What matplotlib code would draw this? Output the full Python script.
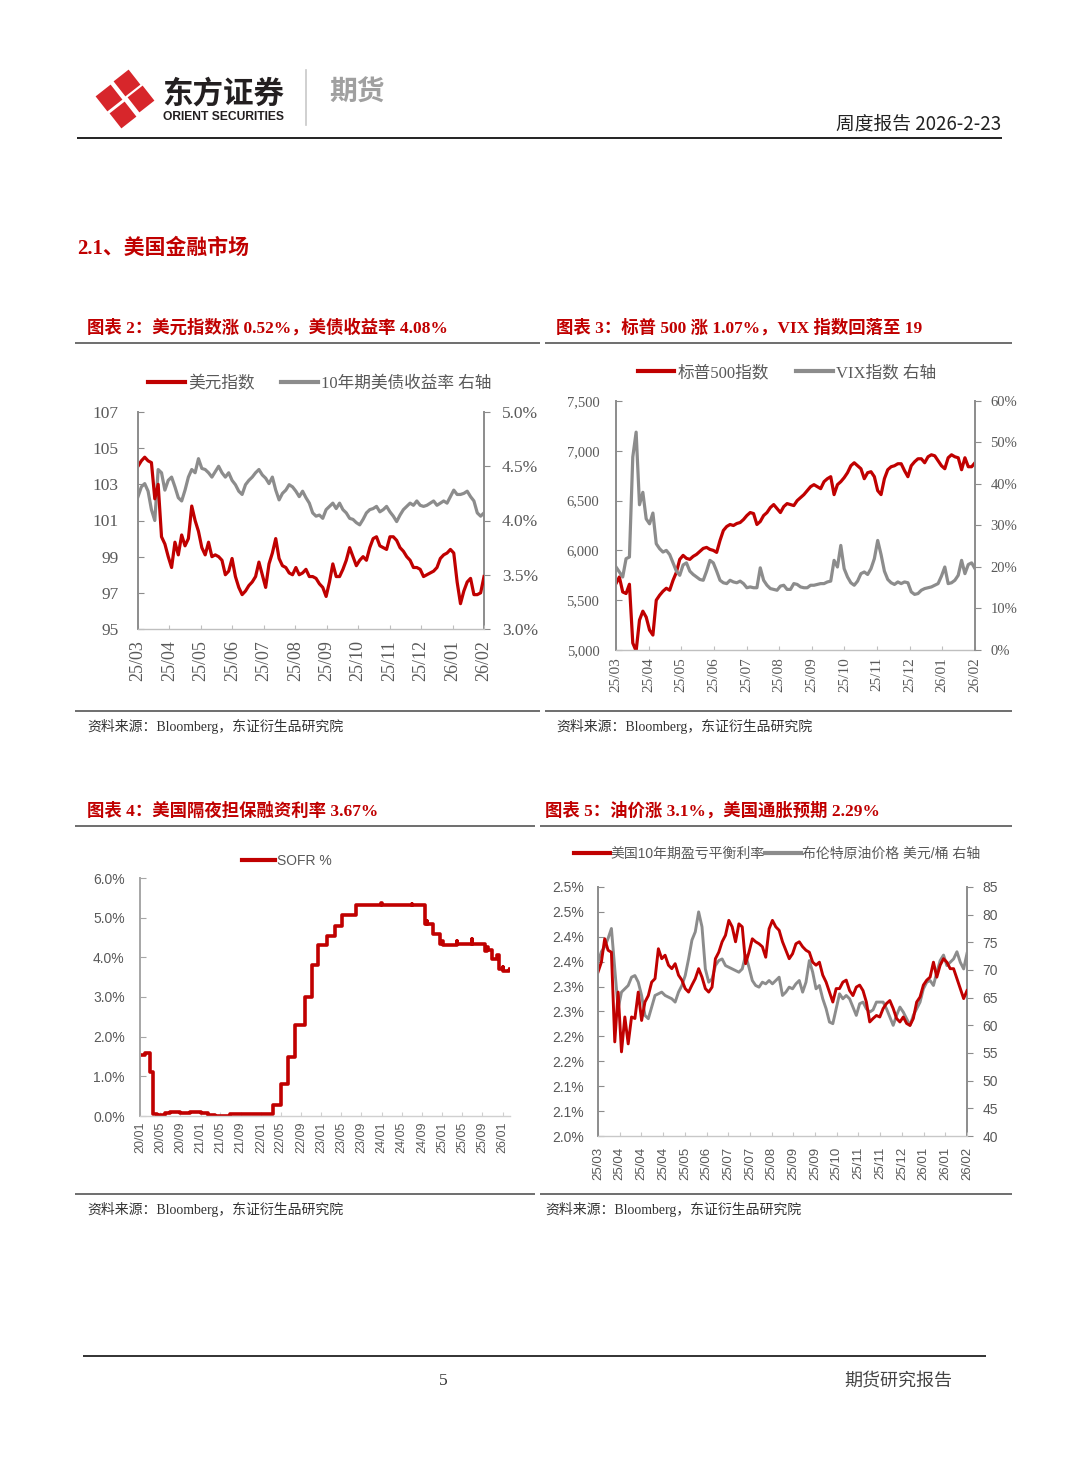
import numpy as np
import pandas as pd
import matplotlib
matplotlib.use('Agg')
import matplotlib.pyplot as plt
import matplotlib.dates as mdates
from matplotlib.lines import Line2D
from matplotlib.patches import RegularPolygon
from matplotlib.ticker import FuncFormatter

W, H = 1080, 1466
RED = '#C00000'
GRAY = '#8C8C8C'
TXT = '#595959'
SPINE = '#8C8C8C'
SERIF = ['Liberation Serif', 'Noto Sans CJK SC']
SANS = ['Liberation Sans', 'Noto Sans CJK SC']
CJK = ['Noto Sans CJK SC', 'DejaVu Sans']
plt.rcParams['font.family'] = SERIF

# ---- chart 2: dollar index / 10y treasury ----
m_labels = ['25/03', '25/04', '25/05', '25/06', '25/07', '25/08', '25/09',
            '25/10', '25/11', '25/12', '26/01', '26/02']
dxy = [104.0, 104.3, 104.5, 104.3, 104.2, 102.2, 103.0, 100.1, 99.7, 99.0,
       98.4, 99.8, 99.1, 100.2, 99.6, 100.0, 101.8, 101.0, 100.4, 99.5,
       99.1, 99.8, 99.0, 99.1, 99.0, 98.8, 98.0, 98.2, 98.9, 97.9,
       97.3, 96.9, 97.1, 97.4, 97.6, 97.9, 98.7, 98.0, 97.3, 98.6,
       99.2, 100.0, 98.9, 98.5, 98.4, 98.1, 98.0, 98.4, 98.0, 98.1,
       98.3, 97.9, 97.9, 97.8, 97.5, 97.3, 96.8, 97.6, 98.6, 97.9,
       97.9, 98.3, 98.8, 99.5, 99.0, 98.5, 98.8, 99.0, 98.8, 99.5,
       100.0, 100.1, 99.6, 99.5, 99.4, 100.1, 100.1, 99.9, 99.5, 99.3,
       99.0, 98.8, 98.4, 98.4, 98.3, 97.9, 98.0, 98.1, 98.2, 98.4,
       98.9, 99.1, 99.2, 99.4, 99.2, 97.6, 96.4, 97.1, 97.6, 97.8,
       96.9, 96.9, 97.0, 97.9]
ust10 = [4.22, 4.31, 4.34, 4.27, 4.10, 4.00, 4.47, 4.44, 4.28, 4.37,
         4.40, 4.31, 4.21, 4.18, 4.28, 4.40, 4.47, 4.44, 4.57, 4.48,
         4.47, 4.44, 4.40, 4.45, 4.50, 4.44, 4.40, 4.44, 4.37, 4.33,
         4.27, 4.24, 4.33, 4.37, 4.40, 4.44, 4.47, 4.42, 4.39, 4.34,
         4.40, 4.28, 4.19, 4.25, 4.28, 4.33, 4.31, 4.27, 4.22, 4.27,
         4.21, 4.16, 4.07, 4.04, 4.05, 4.02, 4.10, 4.13, 4.16, 4.11,
         4.16, 4.10, 4.07, 4.02, 4.01, 3.98, 3.96, 4.01, 4.07, 4.10,
         4.11, 4.13, 4.08, 4.10, 4.13, 4.08, 4.04, 3.99, 4.05, 4.10,
         4.13, 4.16, 4.14, 4.18, 4.14, 4.13, 4.14, 4.16, 4.18, 4.14,
         4.16, 4.18, 4.16, 4.22, 4.28, 4.24, 4.24, 4.25, 4.27, 4.22,
         4.18, 4.07, 4.04, 4.07]

# ---- chart 3: S&P 500 / VIX ----
spx = [5667, 5733, 5583, 5567, 5660, 5070, 4990, 5300, 5390, 5330,
       5200, 5150, 5500, 5550, 5590, 5620, 5600, 5700, 5780, 5910,
       5950, 5920, 5910, 5940, 5960, 5990, 6020, 6030, 6010, 6000,
       5980, 6100, 6200, 6240, 6260, 6250, 6270, 6280, 6310, 6350,
       6380, 6370, 6260, 6290, 6350, 6380, 6430, 6460, 6420, 6380,
       6440, 6470, 6460, 6450, 6500, 6530, 6560, 6600, 6640, 6660,
       6640, 6620, 6690, 6720, 6740, 6560, 6660, 6690, 6730, 6780,
       6850, 6880, 6850, 6820, 6720, 6780, 6790, 6740, 6600, 6560,
       6720, 6810, 6840, 6850, 6870, 6870, 6800, 6740, 6850, 6890,
       6920, 6920, 6880, 6940, 6960, 6950, 6900, 6850, 6820, 6930,
       6960, 6940, 6930, 6810, 6930, 6840, 6840, 6880]
vix = [20.0, 18.8, 17.6, 22.0, 22.4, 46.5, 52.5, 35.0, 38.0, 31.6,
       30.4, 33.0, 25.6, 24.4, 23.6, 24.0, 23.0, 21.0, 19.0, 18.0,
       20.5, 21.0, 19.0, 18.2, 17.6, 17.0, 16.8, 19.0, 21.6, 21.0,
       19.0, 16.8, 16.2, 16.0, 16.8, 16.4, 16.2, 16.6, 16.0, 15.0,
       15.2, 15.0, 15.0, 19.8, 16.8, 15.6, 14.8, 14.6, 14.4, 15.4,
       15.6, 14.6, 14.6, 16.0, 15.8, 15.2, 15.0, 15.0, 15.6, 15.6,
       15.8, 16.0, 16.0, 16.4, 16.6, 21.6, 20.0, 25.2, 19.6, 17.6,
       16.2, 15.6, 16.6, 18.4, 18.8, 18.2, 19.6, 22.0, 26.4, 23.0,
       19.0, 17.0, 16.2, 15.8, 16.4, 16.0, 16.4, 16.2, 14.0, 13.4,
       13.6, 14.4, 14.8, 15.0, 15.2, 15.6, 16.0, 17.8, 20.0, 16.0,
       16.2, 16.8, 18.0, 21.6, 18.4, 20.6, 21.0, 19.6]

# ---- chart 4: SOFR (change dates and levels) ----
sofr_dates = ['2020-01-02', '2020-02-03', '2020-03-04', '2020-03-17', '2020-04-15',
              '2020-06-01', '2020-07-01', '2020-09-01', '2020-11-01', '2021-01-04',
              '2021-02-15', '2021-04-01', '2021-07-01', '2022-03-17', '2022-05-05',
              '2022-06-16', '2022-07-28', '2022-09-22', '2022-11-03', '2022-12-15',
              '2023-02-02', '2023-03-23', '2023-05-04', '2023-07-27', '2023-12-29',
              '2024-01-03', '2024-07-01', '2024-07-05', '2024-09-19', '2024-10-01',
              '2024-10-04', '2024-11-08', '2024-12-19', '2025-01-02', '2025-01-06',
              '2025-04-01', '2025-04-03', '2025-07-01', '2025-07-03', '2025-09-18',
              '2025-10-01', '2025-10-06', '2025-10-30', '2025-12-01', '2025-12-11',
              '2026-01-02', '2026-01-05', '2026-02-10', '2026-02-15']
sofr = [1.55, 1.60, 1.10, 0.05, 0.02,
        0.07, 0.10, 0.08, 0.09, 0.07,
        0.03, 0.01, 0.05, 0.28, 0.80,
        1.50, 2.30, 3.00, 3.80, 4.30,
        4.55, 4.80, 5.06, 5.31, 5.38,
        5.31, 5.35, 5.33, 4.85, 4.92,
        4.83, 4.60, 4.33, 4.40, 4.30,
        4.40, 4.33, 4.45, 4.33, 4.15,
        4.25, 4.18, 3.95, 4.05, 3.70,
        3.75, 3.65, 3.67, 3.70]

# ---- chart 5: breakeven / Brent ----
b_labels = ['25/03', '25/04', '25/04', '25/04', '25/05', '25/06', '25/07', '25/07', '25/08',
            '25/09', '25/09', '25/10', '25/11', '25/11', '25/12', '26/01', '26/01', '26/02']
be_ticks = [2.00, 2.05, 2.10, 2.15, 2.20, 2.25, 2.30, 2.35, 2.40, 2.45, 2.50]
be_tick_labels = ['2.0%', '2.1%', '2.1%', '2.2%', '2.2%', '2.3%', '2.3%', '2.4%', '2.4%', '2.5%', '2.5%']
breakeven = [2.329, 2.349, 2.396, 2.373, 2.369, 2.189, 2.289, 2.169, 2.239, 2.185,
             2.239, 2.236, 2.289, 2.232, 2.269, 2.282, 2.309, 2.316, 2.376, 2.356,
             2.363, 2.343, 2.336, 2.346, 2.323, 2.313, 2.296, 2.289, 2.303, 2.316,
             2.336, 2.319, 2.296, 2.289, 2.299, 2.356, 2.369, 2.390, 2.403, 2.433,
             2.420, 2.390, 2.426, 2.420, 2.346, 2.369, 2.396, 2.390, 2.386, 2.380,
             2.359, 2.416, 2.433, 2.420, 2.413, 2.390, 2.373, 2.356, 2.366, 2.386,
             2.390, 2.380, 2.373, 2.369, 2.349, 2.343, 2.349, 2.323, 2.309, 2.289,
             2.269, 2.296, 2.296, 2.309, 2.313, 2.292, 2.282, 2.299, 2.303, 2.292,
             2.269, 2.229, 2.236, 2.242, 2.239, 2.256, 2.266, 2.272, 2.256, 2.236,
             2.229, 2.239, 2.226, 2.222, 2.236, 2.269, 2.279, 2.303, 2.313, 2.319,
             2.349, 2.319, 2.343, 2.356, 2.349, 2.336, 2.336, 2.316, 2.296, 2.276,
             2.292]
brent = [71.4, 73.3, 74.2, 75.7, 77.5, 70.2, 63.0, 66.0, 66.6, 67.2,
         68.7, 69.0, 67.8, 65.4, 61.8, 61.2, 63.3, 65.4, 65.7, 66.0,
         65.4, 65.1, 64.8, 64.2, 66.0, 67.2, 69.0, 72.0, 75.4, 76.9,
         80.5, 77.8, 70.2, 67.8, 68.4, 70.8, 71.7, 72.0, 70.8, 70.5,
         70.2, 69.9, 69.6, 70.2, 72.7, 70.5, 68.1, 67.2, 66.9, 67.8,
         67.5, 68.1, 67.5, 68.1, 68.7, 65.4, 66.0, 66.9, 66.6, 67.5,
         68.1, 66.0, 67.8, 71.7, 69.6, 66.6, 67.2, 64.8, 63.0, 60.6,
         60.3, 63.0, 65.7, 64.8, 65.4, 64.8, 63.3, 61.8, 63.9, 64.2,
         63.0, 62.4, 62.8, 64.2, 64.2, 64.2, 63.0, 61.5, 60.0, 61.8,
         63.3, 62.4, 61.2, 60.0, 61.8, 63.0, 64.2, 66.6, 67.8, 68.1,
         67.2, 69.6, 71.7, 72.7, 70.8, 71.4, 72.0, 73.3, 71.4, 70.2,
         73.0]

fig = plt.figure(figsize=(W / 100, H / 100), dpi=100)
fig.patch.set_facecolor('white')

# page layer in pixel coordinates
bg = fig.add_axes([0, 0, 1, 1], zorder=-5)
bg.set_xlim(0, W)
bg.set_ylim(H, 0)
bg.axis('off')


def box(l, t, r, b):
    return [l / W, 1 - b / H, (r - l) / W, (b - t) / H]


def hline(x0, x1, y, color='#555555', lw=1.2):
    bg.plot([x0, x1], [y, y], color=color, lw=lw, solid_capstyle='butt')


# header
for cx, cy in [(127, 83), (141, 99), (123, 115), (109, 98)]:
    bg.add_patch(RegularPolygon((cx, cy), 4, radius=13.5, orientation=0.12,
                                facecolor='#D7262B', edgecolor='none'))
bg.text(162, 94, '东方证券', family=CJK, fontsize=22, fontweight='bold', color='#231F20', va='center')
bg.text(163, 117, 'ORIENT SECURITIES', family=['Liberation Sans'], fontsize=8.7,
        fontweight='bold', color='#231F20', va='center')
bg.plot([306, 306], [70, 125], color='#C8C8C8', lw=1.2)
bg.text(329, 93, '期货', family=CJK, fontsize=20, fontweight='bold', color='#A0A0A0', va='center')
bg.text(1001, 124, '周度报告 2026-2-23', family=CJK, fontsize=13.5, color='#222222',
        ha='right', va='center')
hline(77, 1002, 138, color='#222222', lw=1.4)
bg.text(77, 249, '2.1、美国金融市场', family=SERIF, fontsize=15, fontweight='bold',
        color=RED, va='center')

# chart frames
titles = [(87, 328, '图表 2：美元指数涨 0.52%，美债收益率 4.08%'),
          (556, 328, '图表 3：标普 500 涨 1.07%，VIX 指数回落至 19'),
          (87, 811, '图表 4：美国隔夜担保融资利率 3.67%'),
          (545, 811, '图表 5：油价涨 3.1%，美国通胀预期 2.29%')]
for tx, ty, s in titles:
    bg.text(tx, ty, s, family=SERIF, fontsize=12.5, fontweight='bold', color=RED, va='center')
for x0, x1, y in [(75, 540, 343), (545, 1012, 343), (75, 540, 711), (545, 1012, 711),
                  (75, 535, 826), (540, 1012, 826), (75, 535, 1194), (540, 1012, 1194)]:
    hline(x0, x1, y)
src = '资料来源：Bloomberg，东证衍生品研究院'
for sx, sy in [(87, 726), (556, 726), (87, 1209), (545, 1209)]:
    bg.text(sx, sy, src, family=SERIF, fontsize=10, color='#333333', va='center')

# footer
hline(83, 986, 1356, color='#222222', lw=1.3)
bg.text(443, 1381, '5', family=SERIF, fontsize=12.5, color='#333333', ha='center', va='center')
bg.text(952, 1381, '期货研究报告', family=CJK, fontsize=13, color='#444444', ha='right', va='center')


def frame(ax, ax2, bottom_color='#BFBFBF'):
    ax.spines['top'].set_visible(False)
    ax.spines['right'].set_visible(False)
    ax.spines['left'].set_color(SPINE)
    ax.spines['left'].set_linewidth(1.4)
    ax.spines['bottom'].set_color(bottom_color)
    ax.spines['bottom'].set_linewidth(1.0)
    if ax2 is not None:
        for s in ['top', 'left', 'bottom']:
            ax2.spines[s].set_visible(False)
        ax2.spines['right'].set_color(SPINE)
        ax2.spines['right'].set_linewidth(1.4)


def legend(ax, labels, colors, anchor, fam, size, hl, tp, cs):
    handles = [Line2D([], [], color=c, lw=3) for c in colors]
    ax.legend(handles, labels, loc='center', bbox_to_anchor=anchor, ncol=len(labels),
              frameon=False, prop={'family': fam, 'size': size}, labelcolor=TXT,
              handlelength=hl, handletextpad=tp, columnspacing=cs, borderaxespad=0)


# ---- chart 2 ----
ax = fig.add_axes(box(138, 412, 484, 629))
ax2 = ax.twinx()
nt = len(m_labels) - 1
ax2.plot(np.linspace(0, nt, len(ust10)), ust10, color=GRAY, lw=2.3)
ax.plot(np.linspace(0, nt, len(dxy)), dxy, color=RED, lw=2.3)
ax.set_zorder(ax2.get_zorder() + 1)
ax.patch.set_visible(False)
ax.set_xlim(0, nt)
ax.set_ylim(95, 107)
ax.set_yticks(np.arange(95, 108, 2))
ax2.set_ylim(3.0, 5.0)
ax2.set_yticks(np.arange(3.0, 5.01, 0.5))
ax2.yaxis.set_major_formatter(FuncFormatter(lambda v, p: f'{v:.1f}%'))
ax.set_xticks(range(len(m_labels)))
ax.set_xticklabels(m_labels, rotation=90)
frame(ax, ax2)
ax.tick_params(axis='y', direction='in', length=4, color=SPINE, labelcolor=TXT, labelsize=12.5, pad=14)
ax.tick_params(axis='x', direction='in', length=3, color='#BFBFBF', labelcolor=TXT, labelsize=13, pad=8)
ax2.tick_params(axis='y', direction='out', length=4, color=SPINE, labelcolor=TXT, labelsize=12.5, pad=9)
legend(ax, ['美元指数', '10年期美债收益率 右轴'], [RED, GRAY], (0.526, 1.13), SERIF, 12, 2.2, 0.2, 1.6)

# ---- chart 3 ----
ax = fig.add_axes(box(616, 401, 975, 650))
ax2 = ax.twinx()
ax.plot(np.linspace(0, nt, len(spx)), spx, color=RED, lw=2.3)
ax2.plot(np.linspace(0, nt, len(vix)), vix, color=GRAY, lw=2.3)
ax.set_xlim(0, nt)
ax.set_ylim(5000, 7500)
ax.set_yticks(np.arange(5000, 7501, 500))
ax.yaxis.set_major_formatter(FuncFormatter(lambda v, p: f'{v:,.0f}'))
ax2.set_ylim(0, 60)
ax2.set_yticks(np.arange(0, 61, 10))
ax2.yaxis.set_major_formatter(FuncFormatter(lambda v, p: f'{v:.0f}%'))
ax.set_xticks(range(len(m_labels)))
ax.set_xticklabels(m_labels, rotation=90)
frame(ax, ax2)
ax.tick_params(axis='y', direction='in', length=4, color=SPINE, labelcolor=TXT, labelsize=10.5, pad=12)
ax.tick_params(axis='x', direction='in', length=3, color='#BFBFBF', labelcolor=TXT, labelsize=11, pad=5)
ax2.tick_params(axis='y', direction='out', length=4, color=SPINE, labelcolor=TXT, labelsize=10.5, pad=7)
legend(ax, ['标普500指数', 'VIX指数 右轴'], [RED, GRAY], (0.476, 1.112), SERIF, 12, 2.2, 0.2, 1.6)

# ---- chart 4 ----
ax = fig.add_axes(box(140, 878, 510, 1116))
ax.step(pd.to_datetime(sofr_dates), sofr, where='post', color=RED, lw=2.6)
ax.set_xlim(pd.Timestamp('2020-01-01'), pd.Timestamp('2026-02-15'))
ax.set_ylim(0, 6)
ax.set_yticks(np.arange(0, 6.01, 1))
ax.yaxis.set_major_formatter(FuncFormatter(lambda v, p: f'{v:.1f}%'))
ax.xaxis.set_major_locator(mdates.MonthLocator(bymonth=[1, 5, 9]))
ax.xaxis.set_major_formatter(mdates.DateFormatter('%y/%m'))
frame(ax, None, bottom_color='#D0D0D0')
ax.spines['left'].set_color('#A6A6A6')
ax.tick_params(axis='y', direction='in', length=4, color='#A6A6A6', labelcolor=TXT, labelsize=10,
               pad=11, labelfontfamily=SANS)
ax.tick_params(axis='x', direction='in', length=3, color='#D0D0D0', labelcolor=TXT, labelsize=9,
               pad=4, labelfontfamily=SANS, labelrotation=90)
legend(ax, ['SOFR %'], [RED], (0.397, 1.071), SANS, 10, 2.4, 0.1, 1.0)

# ---- chart 5 ----
ax = fig.add_axes(box(598, 887, 967, 1136))
ax2 = ax.twinx()
nb = len(b_labels) - 1
ax2.plot(np.linspace(0, nb, len(brent)), brent, color=GRAY, lw=2.1)
ax.plot(np.linspace(0, nb, len(breakeven)), breakeven, color=RED, lw=2.1)
ax.set_zorder(ax2.get_zorder() + 1)
ax.patch.set_visible(False)
ax.set_xlim(0, nb)
ax.set_ylim(2.0, 2.5)
ax.set_yticks(be_ticks)
ax.set_yticklabels(be_tick_labels)
ax2.set_ylim(40, 85)
ax2.set_yticks(np.arange(40, 86, 5))
ax.set_xticks(range(len(b_labels)))
ax.set_xticklabels(b_labels, rotation=90)
frame(ax, ax2, bottom_color='#C8C8C8')
ax.tick_params(axis='y', direction='in', length=4, color=SPINE, labelcolor=TXT, labelsize=10,
               pad=10, labelfontfamily=SANS)
ax.tick_params(axis='x', direction='in', length=3, color='#C8C8C8', labelcolor=TXT, labelsize=9.5,
               pad=8, labelfontfamily=SANS)
ax2.tick_params(axis='y', direction='out', length=4, color=SPINE, labelcolor=TXT, labelsize=10,
                pad=7, labelfontfamily=SANS)
legend(ax, ['美国10年期盈亏平衡利率', '布伦特原油价格 美元/桶 右轴'], [RED, GRAY], (0.485, 1.133),
       SANS, 10, 2.6, 0.05, 0.05)

fig.savefig('out.png', dpi=100, facecolor='white')
